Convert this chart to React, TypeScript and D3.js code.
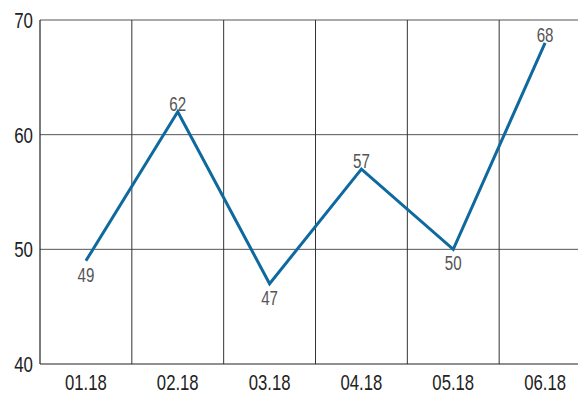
import React from "react";
import * as d3 from "d3";

const months = ["01.18", "02.18", "03.18", "04.18", "05.18", "06.18"];
const values = [49, 62, 47, 57, 50, 68];
const yTicks = [40, 50, 60, 70];

const W = 578;
const H = 394;
const FONT = "'Liberation Sans', Arial, sans-serif";

// condensed text: horizontally squeezed Liberation Sans
function NarrowText(props: {
  x: number;
  y: number;
  anchor: "start" | "middle" | "end";
  size: number;
  squeeze: number;
  fill: string;
  dy?: string;
  children: React.ReactNode;
}) {
  const { x, y, anchor, size, squeeze, fill, dy, children } = props;
  return (
    <text
      transform={`translate(${x},${y}) scale(${squeeze},1)`}
      dy={dy}
      textAnchor={anchor}
      fontFamily={FONT}
      fontSize={size}
      fill={fill}
    >
      {children}
    </text>
  );
}

export default function App() {
  const x = d3.scaleBand<string>().domain(months).range([40, 591]).padding(0);
  const y = d3.scaleLinear().domain([40, 70]).range([364, 20]);
  const cx = (m: string) => (x(m) ?? 0) + x.bandwidth() / 2;

  const line = d3
    .line<number>()
    .x((_, i) => cx(months[i]))
    .y((v) => y(v));

  // put the label above a peak and below a trough
  const above = values.map((v, i) => {
    const prev = i > 0 ? values[i - 1] : null;
    const next = i < values.length - 1 ? values[i + 1] : null;
    const ref = prev !== null ? prev : (next as number);
    const ref2 = next !== null ? next : (prev as number);
    return v >= ref && v >= ref2;
  });

  return (
    <svg
      width={W}
      height={H}
      style={{ position: "absolute", left: 0, top: 0, display: "block" }}
    >
      <rect width={W} height={H} fill="#fff" />
      {/* horizontal grid */}
      {yTicks.slice(1).map((t) => (
        <line key={t} x1={40} x2={W} y1={y(t)} y2={y(t)} stroke="#555" strokeWidth={1} />
      ))}
      {/* vertical separators between months */}
      {months.slice(1).map((m) => (
        <line key={m} x1={x(m)} x2={x(m)} y1={y(70)} y2={y(40)} stroke="#333" strokeWidth={1} />
      ))}
      {/* axes */}
      <line x1={40} x2={40} y1={y(70)} y2={y(40)} stroke="#222" strokeWidth={1.2} />
      <line x1={40} x2={W} y1={y(40)} y2={y(40)} stroke="#222" strokeWidth={1.2} />

      {yTicks.map((t) => (
        <NarrowText key={t} x={33} y={y(t)} dy="0.36em" anchor="end" size={22.5} squeeze={0.75} fill="#222">
          {t}
        </NarrowText>
      ))}
      {months.map((m) => (
        <NarrowText key={m} x={cx(m)} y={390} anchor="middle" size={22} squeeze={0.76} fill="#222">
          {m}
        </NarrowText>
      ))}

      <path d={line(values) ?? ""} fill="none" stroke="#0e6a9e" strokeWidth={3} strokeLinejoin="miter" />

      {values.map((v, i) => (
        <NarrowText
          key={i}
          x={cx(months[i])}
          y={above[i] ? y(v) - 1 : y(v) + 21}
          anchor="middle"
          size={21}
          squeeze={0.72}
          fill="#555"
        >
          {v}
        </NarrowText>
      ))}
    </svg>
  );
}
